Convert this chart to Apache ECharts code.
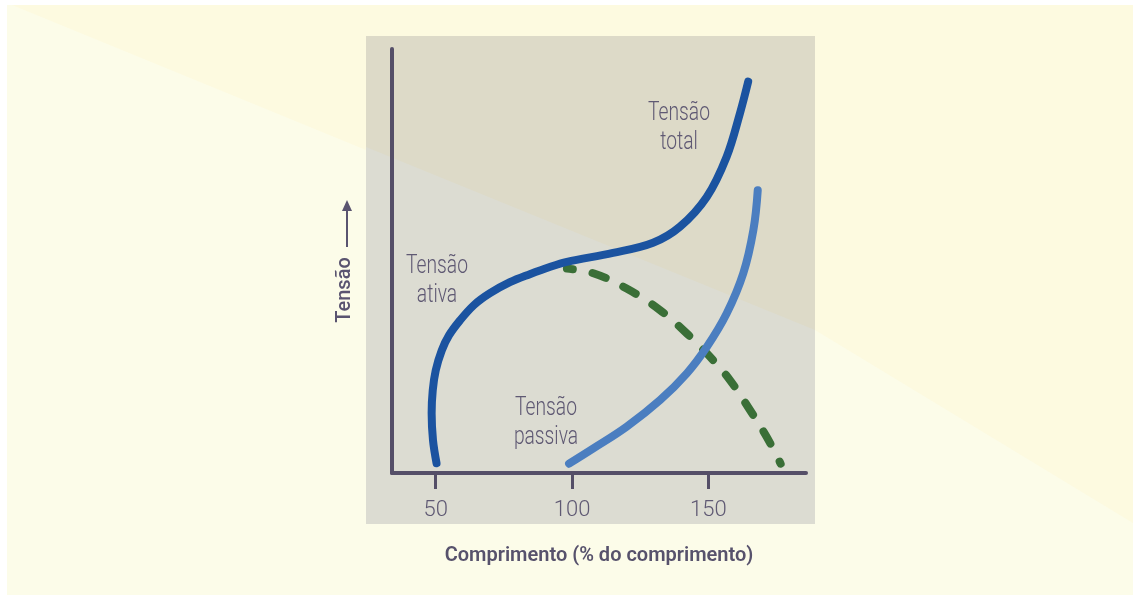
<!DOCTYPE html>
<html>
<head>
<meta charset="utf-8">
<script src="https://cdn.jsdelivr.net/npm/echarts@6/dist/echarts.min.js"></script>
<style>
html,body{margin:0;padding:0;background:#ffffff;}
#chart{width:1133px;height:596px;}
</style>
</head>
<body>
<div id="chart"></div>
<script>
// ---- data (x = comprimento %, y = tensão, arbitrary units 0-100) ----
const xTicks = [50, 100, 150];
const tensaoTotal = [
  [50.3, 2.3], [49.0, 7.7], [48.5, 14.1], [48.9, 19.5], [50.0, 24.2], [52.2, 28.9],
  [54.9, 32.5], [58.9, 36.0], [64.0, 39.6], [69.9, 42.4], [77.2, 45.0], [84.5, 46.9],
  [91.8, 48.6], [98.1, 49.8], [115.0, 51.9], [129.7, 54.3],
  [139.6, 58.1], [149.4, 65.1], [156.7, 74.6], [161.6, 84.9], [164.6, 92.3]
];
const tensaoPassiva = [
  [98.9, 2.2], [107.8, 5.8], [120.0, 10.9], [132.3, 17.2], [142.1, 23.5], [149.4, 29.7],
  [156.7, 37.6], [162.8, 47.1], [166.5, 57.3], [168.1, 66.7]
];
const tensaoAtiva = [
  [98.1, 48.2], [107.8, 47.1], [120.0, 43.5], [132.3, 38.4], [142.1, 32.9], [150.6, 27.4],
  [157.9, 21.9], [165.3, 14.8], [171.4, 8.5], [176.5, 2.2]
];
const xAxisTitle = 'Comprimento (% do comprimento)';
const yAxisTitle = 'Tensão';
const labelTotal = ['Tensão', 'total'];
const labelAtiva = ['Tensão', 'ativa'];
const labelPassiva = ['Tensão', 'passiva'];

const chart = echarts.init(document.getElementById('chart'), null, {renderer: 'canvas'});
const textColor = '#5f5973';
const axisColor = '#554f68';
const thinFont = "Roboto, sans-serif";

function annot(lines, cx, cy) {
  return lines.map((t, i) => ({
    type: 'text', z: 100,
    x: cx, y: cy + i * 29, scaleX: 0.74,
    style: {
      text: t, fill: textColor, align: 'center', verticalAlign: 'middle',
      font: "300 26px " + thinFont
    }
  }));
}

const option = {
  animation: false,
  backgroundColor: 'transparent',
  grid: {left: 392, right: 327, top: 49, bottom: 123, containLabel: false},
  xAxis: {
    type: 'value', min: 33.96, max: 185.8,
    splitLine: {show: false},
    axisLine: {show: true, onZero: false, lineStyle: {color: axisColor, width: 4}},
    axisTick: {show: true, customValues: xTicks, length: 16, inside: false, lineStyle: {color: axisColor, width: 3}},
    axisLabel: {show: true, customValues: xTicks, margin: 26, color: textColor, fontSize: 22, fontFamily: thinFont, fontWeight: 300},
    name: xAxisTitle, nameLocation: 'middle', nameGap: 73,
    nameTextStyle: {color: '#57526c', fontSize: 20, fontWeight: 600, fontFamily: 'Roboto, sans-serif'}
  },
  yAxis: {
    type: 'value', min: 0, max: 100,
    splitLine: {show: false},
    axisLine: {show: true, lineStyle: {color: axisColor, width: 4}},
    axisTick: {show: false},
    axisLabel: {show: false}
  },
  graphic: [
    {type: 'rect', z: -20, shape: {x: 7, y: 5, width: 1126, height: 590}, style: {fill: '#fcfce9'}},
    {type: 'polygon', z: -19, shape: {points: [[12, 5], [366, 150], [815, 330], [1133, 523], [1133, 5]]}, style: {fill: '#fdfae0'}},
    {type: 'rect', z: -18, shape: {x: 366, y: 36, width: 449, height: 488}, style: {fill: '#dcdcd2'}},
    {type: 'polygon', z: -17, shape: {points: [[366, 147], [815, 330], [815, 36], [366, 36]]}, style: {fill: '#dddac8'}},
    {type: 'text', z: 100, x: 345, y: 290, rotation: Math.PI / 2,
      style: {text: yAxisTitle, fill: '#5a5470', align: 'center', verticalAlign: 'middle', font: "500 20px Roboto, sans-serif"}},
    {type: 'line', z: 100, shape: {x1: 347, y1: 247, x2: 347, y2: 208}, style: {stroke: '#5a5470', lineWidth: 2}},
    {type: 'polygon', z: 100, shape: {points: [[342, 211], [352, 211], [347, 200]]}, style: {fill: '#5a5470'}},
    ...annot(labelTotal, 679, 113),
    ...annot(labelAtiva, 437, 266),
    ...annot(labelPassiva, 546, 408)
  ],
  series: [
    {
      name: 'Tensão total', type: 'line', data: tensaoTotal, smooth: 0.35, showSymbol: false, symbol: 'none',
      lineStyle: {color: '#1b53a0', width: 8, cap: 'round', join: 'round'}, z: 3
    },
    {
      name: 'Tensão passiva', type: 'line', data: tensaoPassiva, smooth: 0.4, showSymbol: false, symbol: 'none',
      lineStyle: {color: '#4b7ec0', width: 8, cap: 'round', join: 'round'}, z: 4
    },
    {
      name: 'Tensão ativa', type: 'line', data: tensaoAtiva, smooth: 0.4, showSymbol: false, symbol: 'none',
      lineStyle: {color: '#3a6f37', width: 8, type: [14, 20], dashOffset: 8, cap: 'round', join: 'round'}, z: 2
    }
  ]
};
chart.setOption(option);
</script>
</body>
</html>
